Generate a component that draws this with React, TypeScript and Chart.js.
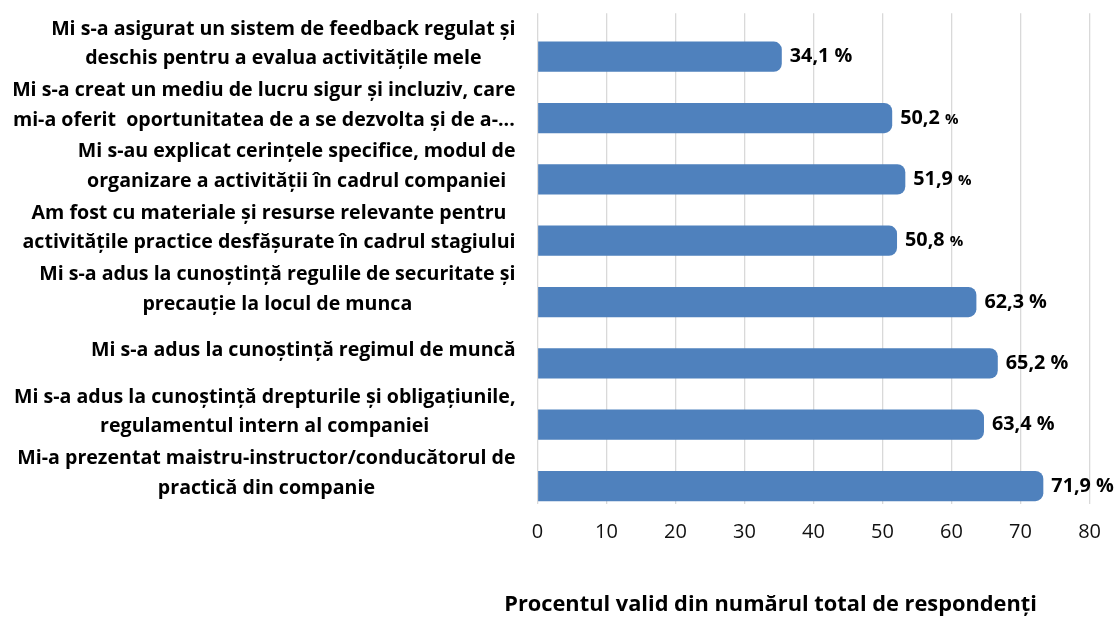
import React, { useEffect, useRef } from "react";
import { Chart, registerables } from "chart.js";

Chart.register(...registerables);

// ---------- data ----------
const categories: string[][] = [
  ["Mi s-a asigurat un sistem de feedback regulat și", "deschis pentru a evalua activitățile mele"],
  ["Mi s-a creat un mediu de lucru sigur și incluziv, care", "mi-a oferit  oportunitatea de a se dezvolta și de a-..."],
  ["Mi s-au explicat cerințele specifice, modul de", "organizare a activității în cadrul companiei"],
  ["Am fost cu materiale și resurse relevante pentru", "activitățile practice desfășurate în cadrul stagiului"],
  ["Mi s-a adus la cunoștință regulile de securitate și", "precauție la locul de munca"],
  ["Mi s-a adus la cunoștință regimul de muncă"],
  ["Mi s-a adus la cunoștință drepturile și obligațiunile,", "regulamentul intern al companiei"],
  ["Mi-a prezentat maistru-instructor/conducătorul de", "practică din companie"],
];

// bar lengths as drawn in the picture
const barValues: number[] = [35.4, 51.4, 53.3, 52.1, 63.6, 66.7, 64.7, 73.3];
// printed value labels
const valueLabels: string[] = ["34,1", "50,2", "51,9", "50,8", "62,3", "65,2", "63,4", "71,9"];

const xMin = 0;
const xMax = 80;
const xStep = 10;
const axisTitle = "Procentul valid din numărul total de respondenți";

// ---------- styles ----------
const FONT = "'Open Sans', Lato, sans-serif";
const BAR_COLOR = "#4F81BD";
const GRID_COLOR = "#D9D9D9";
const CAT_FONT_SIZE = 19.6;
const CAT_LINE_H = 29.5;
const CAT_GAP = 22;
const VAL_FONT_SIZE = 19.8;
const SMALL_PERCENT_ROWS = new Set([1, 2, 3]);
const TITLE_FONT_SIZE = 21.8;
const TITLE_CENTER_SHIFT = -43; // title centre relative to plot centre
const TITLE_Y = 605;

const textPlugin = {
  id: "customText",
  afterDraw(chart: any) {
    const ctx: CanvasRenderingContext2D = chart.ctx;
    const yScale = chart.scales.y;
    const area = chart.chartArea;
    ctx.save();
    ctx.fillStyle = "#000";
    ctx.textBaseline = "middle";

    // category labels: block right-aligned, lines centred in block
    ctx.font = `bold ${CAT_FONT_SIZE}px ${FONT}`;
    ctx.textAlign = "center";
    categories.forEach((lines, i) => {
      const cy = yScale.getPixelForTick(i);
      const w = Math.max(...lines.map((l) => ctx.measureText(l).width));
      const cx = area.left - CAT_GAP - w / 2;
      lines.forEach((l, j) => {
        ctx.fillText(l, cx, cy + (j - (lines.length - 1) / 2) * CAT_LINE_H);
      });
    });

    // value labels
    const meta = chart.getDatasetMeta(1);
    meta.data.forEach((bar: any, i: number) => {
      const x = bar.x + 8;
      const y = bar.y;
      ctx.textAlign = "left";
      ctx.font = `bold ${VAL_FONT_SIZE}px ${FONT}`;
      const num = valueLabels[i] + " ";
      ctx.fillText(num, x, y);
      const w = ctx.measureText(num).width;
      const small = SMALL_PERCENT_ROWS.has(i);
      ctx.font = `bold ${small ? 15 : VAL_FONT_SIZE}px ${FONT}`;
      ctx.fillText("%", x + w, y + (small ? 1.5 : 0));
    });

    // axis title
    ctx.font = `bold ${TITLE_FONT_SIZE}px ${FONT}`;
    ctx.textAlign = "center";
    ctx.fillText(axisTitle, (area.left + area.right) / 2 + TITLE_CENTER_SHIFT, TITLE_Y);

    ctx.restore();
  },
};

export default function App() {
  const canvasRef = useRef<HTMLCanvasElement | null>(null);

  useEffect(() => {
    if (!canvasRef.current) return;
    const chart = new Chart(canvasRef.current, {
      type: "bar",
      data: {
        labels: categories.map((c) => c.join(" ")),
        datasets: [
          {
            label: "spacer",
            data: categories.map(() => null),
            backgroundColor: "rgba(0,0,0,0)",
          },
          {
            label: "Procent",
            data: barValues,
            backgroundColor: BAR_COLOR,
            borderRadius: 8,
            borderSkipped: "start",
          },
        ],
      },
      options: {
        indexAxis: "y",
        animation: false,
        responsive: false,
        maintainAspectRatio: false,
        categoryPercentage: 0.829,
        barPercentage: 1.19,
        layout: {
          padding: { left: 537.5, right: 26.5, top: 13.3, bottom: 58 },
        },
        plugins: {
          legend: { display: false },
          tooltip: { enabled: false },
          title: { display: false },
        },
        scales: {
          x: {
            type: "linear",
            min: xMin,
            max: xMax,
            ticks: {
              stepSize: xStep,
              color: "#111",
              padding: 16,
              font: { family: FONT, size: 20 },
            },
            grid: {
              color: GRID_COLOR,
              lineWidth: 1.3,
              drawTicks: false,
            },
            border: { display: false },
          },
          y: {
            type: "category",
            display: false,
            offset: true,
          },
        },
      } as any,
      plugins: [textPlugin],
    });
    return () => chart.destroy();
  }, []);

  return (
    <div style={{ position: "fixed", left: 0, top: 0, width: 1117, height: 618, background: "#fff" }}>
      <canvas ref={canvasRef} width={1117} height={618} style={{ display: "block" }} />
    </div>
  );
}
